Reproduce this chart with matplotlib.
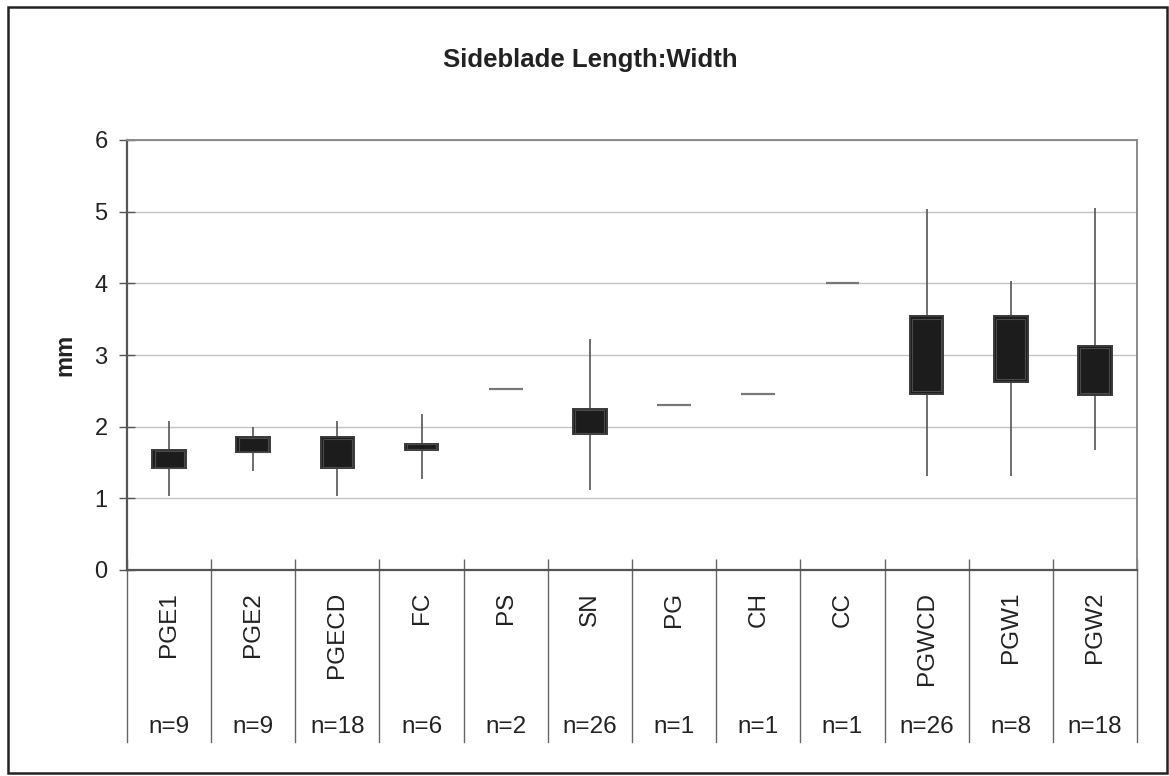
import matplotlib
matplotlib.use("Agg")
import matplotlib.pyplot as plt
from matplotlib.patches import Rectangle

plt.rcParams['font.family'] = ['Liberation Sans', 'DejaVu Sans']

# values
categories = ["PGE1", "PGE2", "PGECD", "FC", "PS", "SN", "PG", "CH", "CC", "PGWCD", "PGW1", "PGW2"]
counts = [9, 9, 18, 6, 2, 26, 1, 1, 1, 26, 8, 18]
whisker_low = [1.03, 1.38, 1.03, 1.27, 2.52, 1.11, 2.30, 2.45, 4.00, 1.31, 1.31, 1.67]
box_low = [1.42, 1.64, 1.42, 1.68, 2.52, 1.90, 2.30, 2.45, 4.00, 2.45, 2.63, 2.44]
box_high = [1.67, 1.85, 1.85, 1.76, 2.52, 2.25, 2.30, 2.45, 4.00, 3.55, 3.54, 3.12]
whisker_high = [2.08, 2.00, 2.08, 2.18, 2.52, 3.23, 2.30, 2.45, 4.00, 5.04, 4.03, 5.05]

fig = plt.figure(figsize=(11.69, 7.76), dpi=100)
ax = fig.add_axes([127 / 1169, 1 - 570 / 776, 1010 / 1169, 430 / 776])

x = list(range(len(categories)))
box_w = 0.4

# whiskers
ax.vlines(x, whisker_low, whisker_high, color="#555555", lw=1.2, zorder=2)
# boxes
for i in x:
    h = box_high[i] - box_low[i]
    if h > 0:
        ax.bar(i, h, bottom=box_low[i], width=box_w, color="#1c1c1c",
               edgecolor="#3a3a3a", linewidth=1.4, zorder=3)
        # faint inner outline like the reference
        ax.bar(i, h * 0.92, bottom=box_low[i] + h * 0.04, width=box_w * 0.86,
               color="none", edgecolor="#4a4a4a", linewidth=0.8, zorder=4)
    else:
        ax.hlines(box_low[i], i - box_w / 2, i + box_w / 2, color="#777777", lw=1.6, zorder=3)

ax.set_xlim(-0.5, len(categories) - 0.5)
ax.set_ylim(0, 6)
ax.set_yticks(range(7))
ax.tick_params(axis="y", labelsize=17, direction="inout", length=12, width=1,
               color="#555555", pad=8, labelcolor="#222222")
ax.grid(axis="y", color="#c4c4c4", lw=1)
ax.set_axisbelow(True)

# category separators as x ticks, extended below the axis
bounds = [i - 0.5 for i in range(len(categories) + 1)]
ax.set_xticks(bounds)
ax.set_xticklabels([])
ax.tick_params(axis="x", direction="in", length=8, width=1, color="#666666")
for b in bounds:
    ax.plot([b, b], [0, -0.4], transform=ax.get_xaxis_transform(), color="#666666",
            lw=1, clip_on=False)

for i, (c, n) in enumerate(zip(categories, counts)):
    ax.text(i, -0.051, c, transform=ax.get_xaxis_transform(), rotation=90,
            ha="center", va="top", fontsize=17.5, color="#222222")
    ax.text(i, -0.365, "n=%d" % n, transform=ax.get_xaxis_transform(),
            ha="center", va="center", fontsize=17.5, color="#222222")

for side in ["top", "right"]:
    ax.spines[side].set_color("#8a8a8a")
    ax.spines[side].set_linewidth(1.4)
for side in ["left", "bottom"]:
    ax.spines[side].set_color("#555555")
    ax.spines[side].set_linewidth(1.6)

ax.set_ylabel("mm", fontsize=17, fontweight="bold", labelpad=13, color="#222222")
fig.text(590 / 1169, 1 - 60 / 776, "Sideblade Length:Width", ha="center", va="center",
         fontsize=18.5, fontweight="bold", color="#222222")

# outer frame
fig.patches.append(Rectangle((8 / 1169, 3 / 776), 1159 / 1169, 766 / 776,
                             transform=fig.transFigure, fill=False,
                             edgecolor="#222222", lw=1.8))

fig.savefig("out.png", dpi=100)
